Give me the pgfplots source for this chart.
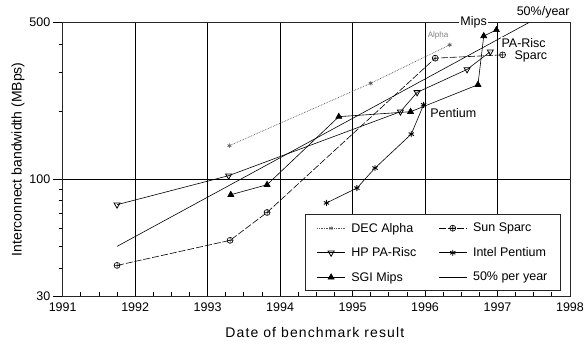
\documentclass[border=0pt]{standalone}
\usepackage{fontspec}
\setmainfont{Liberation Sans}
\newfontfamily\spacedfont[LetterSpace=8]{Liberation Sans}
\usepackage{pgfplots}
\pgfplotsset{compat=1.18}
\begin{document}
\begin{tikzpicture}[font=\fontsize{12.5}{15}\selectfont]
\begin{axis}[
  at={(0pt,0pt)}, anchor=south west,
  scale only axis, width=507.3pt, height=273.3pt,
  xmin=1991, xmax=1998, ymode=log, ymin=30, ymax=500,
  clip=false,
  xtick={1991,1992,1993,1994,1995,1996,1997,1998},
  xticklabels={1991,1992,1993,1994,1995,1996,1997,1998},
  minor x tick num=3,
  ytick={30,100,500}, yticklabels={30,100,500},
  minor ytick={40,50,60,70,80,90,200,300,400},
  xtick pos=bottom, ytick pos=left,
  xtick align=inside, ytick align=outside,
  major tick length=10pt, minor tick length=4pt,
  every tick/.style={black, line width=0.8pt},
  grid=major, major grid style={black, line width=0.9pt},
  axis line style={black!85, line width=0.9pt},
  xticklabel style={font=\fontsize{12.5}{15}\selectfont, yshift=-3pt},
  yticklabel style={font=\fontsize{12.5}{15}\selectfont, xshift=1pt},
  xlabel={\spacedfont\fontsize{14}{16}\selectfont Date of benchmark result},
  xlabel style={at={(axis description cs:0.497,-0.135)}, anchor=center},
  ylabel={\fontsize{14}{16}\selectfont Interconnect bandwidth (MBps)},
  ylabel style={at={(axis description cs:-0.088,0.5)}, anchor=center},
  legend columns=2,
  legend cell align=left,
  legend style={at={(rel axis cs:0.982,0.018)}, anchor=south east,
    draw=black!85, line width=0.9pt, fill=white,
    inner xsep=11pt, inner ysep=6pt, row sep=10pt,
    font=\fontsize{12.5}{15}\selectfont,
    /tikz/every even column/.append style={column sep=20pt},
    /tikz/every odd column/.append style={column sep=4pt}},
  legend image code/.code={%
    \draw[mark repeat=2,mark phase=2,line width=0.6pt] plot coordinates {(0pt,0pt) (14pt,0pt) (28pt,0pt)};},
]
\addplot[gray!70!black, line width=0.7pt, densely dotted, mark=asterisk, mark size=2.2pt, mark options={solid}]
  coordinates {(1993.30,141) (1995.25,268) (1996.34,398)};
\addlegendentry{DEC Alpha}
\addplot[black, line width=0.6pt, dash pattern=on 7pt off 2pt, mark=oplus, mark size=3pt, mark options={solid}]
  coordinates {(1991.75,41.1) (1993.31,53.2) (1993.82,70.9) (1996.14,347) (1997.07,359)};
\addlegendentry{Sun Sparc}
\addplot[black, line width=0.6pt, mark=triangle, mark size=3.5pt, mark options={solid, rotate=180, line width=0.8pt}]
  coordinates {(1991.75,76.8) (1993.29,103.5) (1995.66,200) (1995.89,244) (1996.58,309) (1996.90,371)};
\addlegendentry{HP PA-Risc}
\addplot[black, line width=0.6pt, mark=asterisk, mark size=3pt, mark options={solid, line width=0.9pt}]
  coordinates {(1994.64,78.2) (1995.06,91.1) (1995.31,112) (1995.81,158.8) (1995.98,214.8)};
\addlegendentry{Intel Pentium}
\addplot[black, line width=0.6pt, mark=triangle*, mark size=3.5pt, mark options={solid}]
  coordinates {(1993.32,85.1) (1993.82,94.3) (1994.81,190) (1995.80,200) (1996.73,264) (1996.81,436) (1996.985,464)};
\addlegendentry{SGI Mips}
\addplot[black, line width=0.6pt, no marks]
  coordinates {(1991.75,50) (1997.43,500)};
\addlegendentry{50\% per year}
\node[fill=white, inner sep=1.5pt] at (axis cs:1996.67,500) {Mips};
\node[fill=white, inner sep=1pt] at (axis cs:1997.36,406) {PA-Risc};
\node[fill=white, inner sep=1pt] at (axis cs:1997.46,352) {Sparc};
\node at (axis cs:1996.39,198) {Pentium};
\node at (axis cs:1997.63,559) {50\%/year};
\node[gray, font=\fontsize{8}{9}\selectfont] at (axis cs:1996.18,440) {Alpha};
\end{axis}
\pgfresetboundingbox
\path[use as bounding box] (-62.7pt,-56pt) rectangle (521.3pt,296pt);
\end{tikzpicture}
\end{document}
